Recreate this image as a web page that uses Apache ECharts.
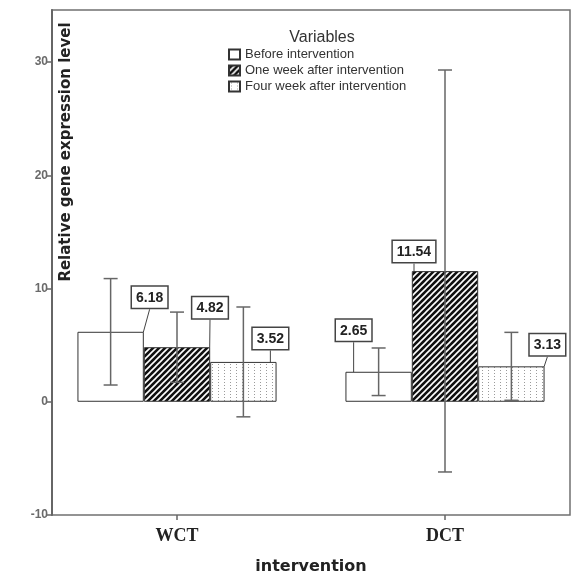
<!DOCTYPE html>
<html><head><meta charset="utf-8">
<script src="https://cdn.jsdelivr.net/npm/echarts@6/dist/echarts.min.js"></script>
<style>html,body{margin:0;padding:0;background:#fff}#c{width:582px;height:574px}</style>
</head><body><div id="c"></div>
<script>
// ---- data ----
const categories = ['WCT', 'DCT'];
const seriesNames = ['Before intervention', 'One week after intervention', 'Four week after intervention'];
const beforeValues = [6.18, 2.65];
const oneWeekValues = [4.82, 11.54];
const fourWeekValues = [3.52, 3.13];
const beforeErrLow = [1.48, 0.55];
const beforeErrHigh = [10.88, 4.75];
const oneWeekErrLow = [1.72, -6.2];
const oneWeekErrHigh = [7.92, 29.3];
const fourWeekErrLow = [-1.33, 0.13];
const fourWeekErrHigh = [8.37, 6.13];
const yTicks = [-10, 0, 10, 20, 30];

// ---- styles ----
const yMin = -10, yMax = 34.6;
const gapRatio = 0.257;
const labelOffsets = [
  [[39, -19], [-25, -26]],
  [[33, -24], [-31, -4]],
  [[27, -8], [36, -6]]
];

function hatchPattern() {
  const c = document.createElement('canvas');
  c.width = 6; c.height = 6;
  const g = c.getContext('2d');
  g.fillStyle = '#111'; g.fillRect(0, 0, 6, 6);
  g.strokeStyle = '#fff'; g.lineWidth = 1.6;
  g.beginPath();
  g.moveTo(0, 6); g.lineTo(6, 0);
  g.moveTo(-3, 3); g.lineTo(3, -3);
  g.moveTo(3, 9); g.lineTo(9, 3);
  g.stroke();
  return c;
}
function dotPattern() {
  const c = document.createElement('canvas');
  c.width = 6; c.height = 3;
  const g = c.getContext('2d');
  g.fillStyle = '#fff'; g.fillRect(0, 0, 6, 3);
  g.fillStyle = '#9a9a9a'; g.fillRect(2, 1, 1, 1);
  return c;
}
const fills = ['#ffffff', { image: hatchPattern(), repeat: 'repeat' }, { image: dotPattern(), repeat: 'repeat' }];
const valuesList = [beforeValues, oneWeekValues, fourWeekValues];
const errLowList = [beforeErrLow, oneWeekErrLow, fourWeekErrLow];
const errHighList = [beforeErrHigh, oneWeekErrHigh, fourWeekErrHigh];

const barSeries = valuesList.map((vals, si) => ({
  type: 'bar', name: seriesNames[si], xAxisIndex: 1, yAxisIndex: 1,
  data: vals, barGap: '0%', barCategoryGap: (gapRatio * 100) + '%',
  itemStyle: { color: fills[si], borderColor: '#333', borderWidth: 1 },
  label: {
    show: true, position: 'top', distance: 5,
    formatter: p => p.value.toFixed(2),
    fontFamily: 'Liberation Sans', fontWeight: 'bold', fontSize: 14, color: '#222',
    backgroundColor: '#fff', borderColor: '#444', borderWidth: 1.5, padding: [4, 4, 3, 4]
  },
  labelLine: { show: true, lineStyle: { color: '#444', width: 1 } },
  labelLayout: p => ({ dx: labelOffsets[si][p.dataIndex][0], dy: labelOffsets[si][p.dataIndex][1] }),
  z: 2
}));

const errSeries = errLowList.map((lows, si) => ({
  type: 'custom', xAxisIndex: 1, yAxisIndex: 1, z: 5, silent: true,
  encode: { x: 0, y: [1, 2] },
  data: categories.map((c, i) => [i, lows[i], errHighList[si][i]]),
  renderItem: (params, api) => {
    const i = api.value(0);
    const lo = api.coord([i, api.value(1)]);
    const hi = api.coord([i, api.value(2)]);
    const band = api.size([1, 0])[0];
    const bw = band * (1 - gapRatio) / 3;
    const x = lo[0] + (si - 1) * bw;
    const cap = 7;
    const st = { stroke: '#666', lineWidth: 1.5 };
    return { type: 'group', children: [
      { type: 'line', shape: { x1: x, y1: lo[1], x2: x, y2: hi[1] }, style: st },
      { type: 'line', shape: { x1: x - cap, y1: lo[1], x2: x + cap, y2: lo[1] }, style: st },
      { type: 'line', shape: { x1: x - cap, y1: hi[1], x2: x + cap, y2: hi[1] }, style: st }
    ]};
  }
}));

const chart = echarts.init(document.getElementById('c'), null, { renderer: 'canvas' });
chart.setOption({
  animation: false,
  backgroundColor: '#fff',
  title: { text: 'Variables', left: 322, top: 30, textAlign: 'center', padding: 0,
    textStyle: { fontSize: 16, fontWeight: 'normal', color: '#333', fontFamily: 'Liberation Sans' } },
  legend: { orient: 'vertical', left: 228, top: 48, padding: 0, itemWidth: 11, itemHeight: 10, itemGap: 3,
    icon: 'rect', data: seriesNames,
    textStyle: { fontSize: 13, color: '#333', fontFamily: 'Liberation Sans' } },
  grid: [
    { left: 52, right: 12, top: 10, bottom: 59, show: true, borderColor: '#707070', borderWidth: 1.5, outerBoundsMode: 'none', containLabel: false },
    { left: 43, right: 3, top: 10, bottom: 59, outerBoundsMode: 'none', containLabel: false }
  ],
  xAxis: [
    { gridIndex: 0, type: 'category', data: categories, show: false },
    { gridIndex: 1, type: 'category', data: categories,
      axisLine: { show: false, onZero: false },
      axisTick: { show: true, alignWithLabel: true, length: 5, lineStyle: { color: '#666', width: 1.5 } },
      axisLabel: { color: '#222', fontSize: 18, fontWeight: 'bold', fontFamily: 'Liberation Serif', margin: 12 },
      name: 'intervention', nameLocation: 'middle', nameGap: 44,
      nameTextStyle: { fontFamily: 'DejaVu Sans', fontWeight: 'bold', fontSize: 16, color: '#222' } }
  ],
  yAxis: [
    { gridIndex: 0, type: 'value', min: yMin, max: yMax, interval: 10,
      axisLine: { show: true, onZero: false, lineStyle: { color: '#666', width: 2 } },
      axisTick: { show: true, length: 5, customValues: yTicks, lineStyle: { color: '#666', width: 1.5 } },
      axisLabel: { customValues: yTicks, color: '#6a6a6a', fontSize: 12, fontWeight: 'bold', fontFamily: 'Liberation Sans', margin: 4 },
      splitLine: { show: false } },
    { gridIndex: 1, type: 'value', min: yMin, max: yMax, interval: 10, show: false, splitLine: { show: false } }
  ],
  graphic: [
    { type: 'text', x: 66, y: 152, rotation: Math.PI / 2,
      style: { text: 'Relative gene expression level', x: 0, y: 0, textAlign: 'center', textVerticalAlign: 'middle',
        font: 'bold 15px "DejaVu Sans"', fill: '#222' } }
  ],
  series: [...barSeries, ...errSeries]
});
</script>
</body></html>
